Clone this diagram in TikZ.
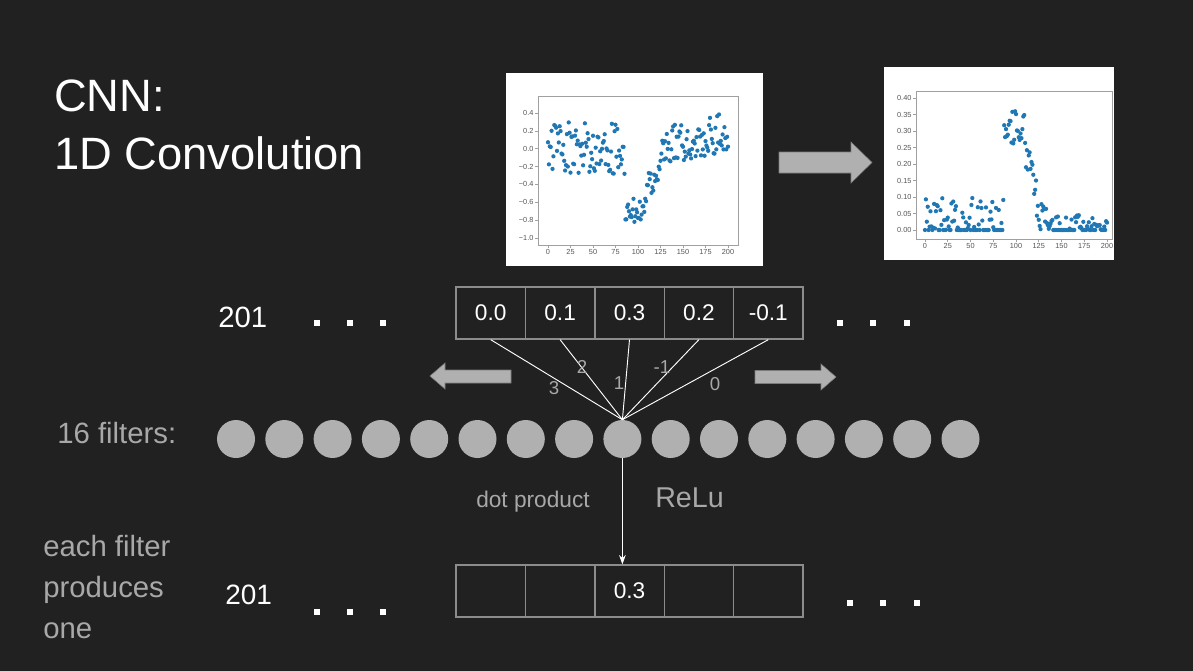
\documentclass[tikz,border=0pt]{standalone}
\usepackage{fontspec}
\setmainfont{Liberation Sans}
\usetikzlibrary{arrows.meta}
\definecolor{bgc}{HTML}{212121}
\definecolor{graytext}{HTML}{A8A8A8}
\definecolor{filtc}{HTML}{B0B0B0}
\definecolor{cellc}{HTML}{8C8C8C}
\definecolor{dotc}{HTML}{1F77B4}
\definecolor{tickc}{HTML}{555555}
\definecolor{axisc}{HTML}{A0A0A0}

\begin{document}
\begin{tikzpicture}[x=0.75pt, y=-0.75pt,
    cell/.style={draw=cellc, line width=1pt, minimum width=52pt, minimum height=39pt,
        inner sep=0pt, text=white, font=\fontsize{17}{20}\selectfont},
    filt/.style={circle, fill=filtc, minimum size=28.5pt, inner sep=0pt},
    wline/.style={white, line width=0.7pt},
    wlabel/.style={text=graytext, font=\fontsize{14}{16}\selectfont, inner sep=0pt},
    bigtext/.style={text=white, anchor=base west, inner sep=0pt},
    graylabel/.style={text=graytext, anchor=base west, inner sep=0pt},
    slide/.style={fill=filtc, draw=filtc!70!black, line width=0.4pt},
    ticklab/.style={text=tickc, font=\fontsize{5.5}{6}\selectfont, inner sep=1pt}]

    % Background
    \fill[bgc] (0,0) rectangle (1193,671);

    % Title (base anchor sits on the last line)
    \node[bigtext, align=left, font=\fontsize{34}{43.5}\selectfont] (title) at (54,169)
        {CNN:\\1D Convolution};

    % Input signal plot
    \fill[white] (506,73) rectangle (763,266);
    \draw[axisc, line width=0.5pt] (538,96) rectangle (738,245);
    \foreach \t/\s in {0.4/0.4, 0.2/0.2, 0.0/0.0, -0.2/−0.2, -0.4/−0.4, -0.6/−0.6, -0.8/−0.8, -1.0/−1.0}
        \draw[axisc, line width=0.4pt] (538,{148.7-89.3*\t}) -- ++(-3,0) node[ticklab, anchor=east] {\s};
    \foreach \t in {0,25,...,200}
        \draw[axisc, line width=0.4pt] ({548+0.9*\t},245) -- ++(0,3) node[ticklab, anchor=north] {\t};
    \pgfmathsetseed{42}
    \foreach \i in {0,...,85}{
        \pgfmathsetmacro\v{0.3*rand}
        \fill[dotc] ({548+0.9*\i},{148.7-89.3*\v}) circle (1.6pt);}
    \foreach \i in {86,...,108}{
        \pgfmathsetmacro\v{-0.7+0.14*rand}
        \fill[dotc] ({548+0.9*\i},{148.7-89.3*\v}) circle (1.6pt);}
    \foreach \i in {109,...,130}{
        \pgfmathsetmacro\v{-0.5+0.5*(\i-109)/21+0.18*rand}
        \fill[dotc] ({548+0.9*\i},{148.7-89.3*\v}) circle (1.6pt);}
    \foreach \i in {131,...,200}{
        \pgfmathsetmacro\v{0.05+0.002*(\i-131)+0.22*rand}
        \fill[dotc] ({548+0.9*\i},{148.7-89.3*\v}) circle (1.6pt);}

    % Arrow between plots
    \fill[slide] (779,152) -- (851,152) -- (851,142) -- (872,162.5)
        -- (851,183) -- (851,173) -- (779,173) -- cycle;

    % Output signal plot
    \fill[white] (884,67) rectangle (1114,260);
    \draw[axisc, line width=0.5pt] (916,91) rectangle (1112,239);
    \foreach \t in {0.00,0.05,0.10,0.15,0.20,0.25,0.30,0.35,0.40}
        \draw[axisc, line width=0.4pt] (916,{230-330*\t}) -- ++(-3,0) node[ticklab, anchor=east] {\t};
    \foreach \t in {0,25,...,200}
        \draw[axisc, line width=0.4pt] ({925+0.91*\t},239) -- ++(0,3) node[ticklab, anchor=north] {\t};
    \foreach \i in {0,...,86}{
        \pgfmathsetmacro\v{max(0,0.09*rand+0.01)}
        \fill[dotc] ({925+0.91*\i},{230-330*\v}) circle (1.6pt);}
    \foreach \i in {87,...,110}{
        \pgfmathsetmacro\v{0.31+0.05*rand}
        \fill[dotc] ({925+0.91*\i},{230-330*\v}) circle (1.6pt);}
    \foreach \i in {111,...,135}{
        \pgfmathsetmacro\v{max(0,0.2-0.2*(\i-111)/24+0.07*rand)}
        \fill[dotc] ({925+0.91*\i},{230-330*\v}) circle (1.6pt);}
    \foreach \i in {136,...,200}{
        \pgfmathsetmacro\v{max(0,0.05*rand-0.005)}
        \fill[dotc] ({925+0.91*\i},{230-330*\v}) circle (1.6pt);}

    % Input row
    \node[bigtext, font=\fontsize{22}{26}\selectfont] (inlen) at (218,327) {201};
    \foreach \x in {317,350,383,840,873,907}
        \fill[white] (\x-3,320) rectangle (\x+3,326);
    \foreach \v [count=\k from 0] in {0.0,0.1,0.3,0.2,-0.1}
        \node[cell] (in\k) at ({490.7+69.4*\k},313) {\v};

    % Sliding direction
    \fill[slide] (430,376) -- (445,363) -- (445,370) -- (511,370)
        -- (511,383) -- (445,383) -- (445,389) -- cycle;
    \fill[slide] (836,377) -- (821,364) -- (821,370.5) -- (755,370.5)
        -- (755,383.5) -- (821,383.5) -- (821,390) -- cycle;

    % Filters
    \node[graylabel, font=\fontsize{22}{24}\selectfont] (nfilt) at (57,443) {16 filters:};
    \foreach \k in {1,...,16}
        \node[filt] (f\k) at ({236+48.3*(\k-1)},439) {};

    % Weights
    \foreach \k in {0,...,4}
        \draw[wline] (in\k.south) -- (f9.north);
    \node[wlabel] (w0) at (554,388) {3};
    \node[wlabel] (w1) at (582,367) {2};
    \node[wlabel] (w2) at (619,383) {1};
    \node[wlabel] (w3) at (662,367) {-1};
    \node[wlabel] (w4) at (715,384) {0};

    % Output row
    \node[graylabel, font=\fontsize{17}{20}\selectfont] (dotp) at (476,507) {dot product};
    \node[graylabel, font=\fontsize{21.5}{24}\selectfont] (relu) at (655,507) {ReLu};
    \node[graylabel, align=left, font=\fontsize{22}{30.5}\selectfont] (each) at (43,638)
        {each filter\\produces\\one};
    \node[bigtext, font=\fontsize{21}{26}\selectfont] (outlen) at (225,604) {201};
    \foreach \x in {317,350,383}
        \fill[white] (\x-3,609) rectangle (\x+3,615);
    \foreach \x in {850,883,917}
        \fill[white] (\x-3,600) rectangle (\x+3,606);
    \foreach \v [count=\k from 0] in {{},{},0.3,{},{}}
        \node[cell] (out\k) at ({490.7+69.4*\k},591) {\v};
    \draw[wline, -{Stealth[length=7pt, width=5pt]}] (f9.south) -- (f9.south |- out2.north);
\end{tikzpicture}
\end{document}
